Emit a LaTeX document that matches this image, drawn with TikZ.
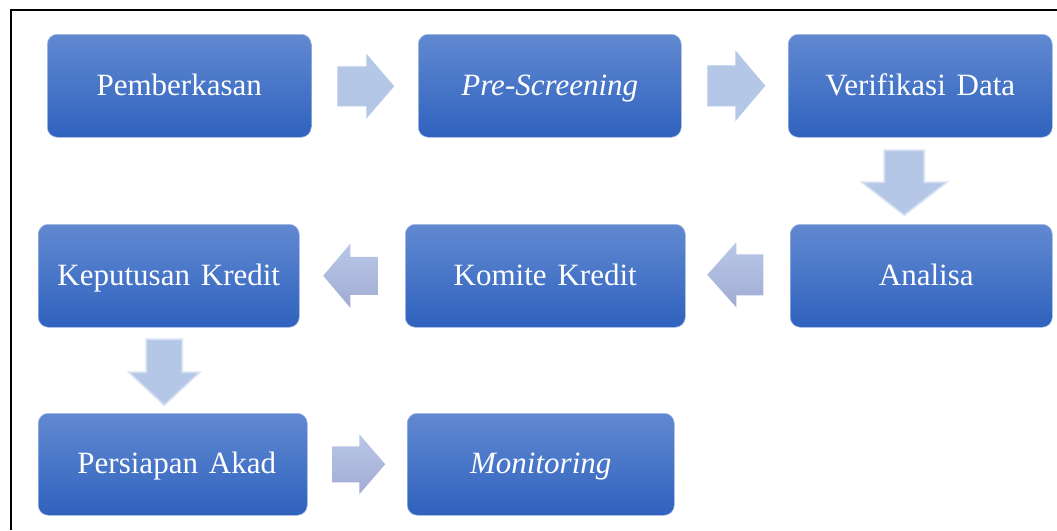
\documentclass[tikz,border=0pt]{standalone}
\usepackage{fontspec}
\setmainfont{Liberation Serif}
\usetikzlibrary{calc}

\definecolor{boxtop}{HTML}{6189D1}
\definecolor{boxbot}{HTML}{2F62BE}
\definecolor{boxedge}{HTML}{A9BDE6}
\definecolor{arrowfill}{HTML}{B4C7E7}
\definecolor{arrowedge}{HTML}{D9E2F3}
\definecolor{arrowtop}{HTML}{B8C8E8}
\definecolor{arrowbot}{HTML}{A2ABD3}

\begin{document}
\begin{tikzpicture}[x=1pt,y=-1pt,
  stage/.style={rectangle, rounded corners=10pt, top color=boxtop,
    bottom color=boxbot, draw=boxedge, line width=0.5pt, text=white,
    font=\fontsize{31}{36}\selectfont, inner sep=0pt, anchor=north west,
    text height=25pt, text depth=6pt},
  flatarrow/.style={fill=arrowfill},
  fadearrow/.style={top color=arrowtop, bottom color=arrowbot, draw=none},
  downarrow/.style={fill=arrowfill, draw=arrowedge, line width=1.6pt, line join=miter},
  frameline/.style={line width=2.5pt, black}]

% page area
\useasboundingbox (0,0) rectangle (1057,530);
\fill[white] (0,0) rectangle (1057,530);

% frame
\coordinate (fa) at (11,530);
\coordinate (fb) at (11,10);
\coordinate (fc) at (1057,10);
\draw[frameline] (fa) -- (fb) -- (fc);

% stages
\node[stage, minimum width=264pt, minimum height=103pt] (berkas)   at (47,34)  {Pemberkasan};
\node[stage, minimum width=263pt, minimum height=103pt] (screen)   at (418,34) {\textit{Pre-Screening}};
\node[stage, minimum width=264pt, minimum height=103pt] (verif)    at (788,34) {Verifikasi\hspace{0.35em}Data};
\node[stage, minimum width=262pt, minimum height=103pt] (analisa)  at (790,224) {\hspace{10pt}Analisa};
\node[stage, minimum width=280pt, minimum height=103pt] (komite)   at (405,224) {Komite\hspace{0.35em}Kredit};
\node[stage, minimum width=261pt, minimum height=103pt] (putusan)  at (38,224)  {Keputusan\hspace{0.35em}Kredit};
\node[stage, minimum width=269pt, minimum height=102pt] (akad)     at (38,413)  {\hspace{8pt}Persiapan\hspace{0.35em}Akad};
\node[stage, minimum width=267pt, minimum height=102pt] (monitor)  at (407,413) {\textit{Monitoring}};

% block arrows between stages
\coordinate (r1) at ($(berkas.east)!0.5!(screen.west)+(1,0.5)$);
\coordinate (r2) at ($(screen.east)!0.5!(verif.west)+(1.5,0)$);
\coordinate (d1) at ($(verif.south)!0.5!(analisa.north)+(-16.5,2)$);
\coordinate (l1) at ($(analisa.west)!0.5!(komite.east)+(-2.5,-1)$);
\coordinate (l2) at ($(komite.west)!0.5!(putusan.east)+(-1.5,0)$);
\coordinate (d2) at ($(putusan.south)!0.5!(akad.north)+(-6.5,2)$);
\coordinate (r3) at ($(akad.east)!0.5!(monitor.west)+(1.5,0)$);

\path[flatarrow, shift={(r1)}]
  (-28.5,-20) -- (0.5,-20) -- (0.5,-32.5) -- (28.5,0) -- (0.5,32.5) -- (0.5,20) -- (-28.5,20) -- cycle;
\path[flatarrow, shift={(r2)}]
  (-29,-20.5) -- (-1,-20.5) -- (-1,-35.5) -- (29,0) -- (-1,35.5) -- (-1,20.5) -- (-29,20.5) -- cycle;
\path[downarrow, shift={(d1)}]
  (-20,-32.5) -- (20,-32.5) -- (20,-0.5) -- (42.5,-0.5) -- (0,32.5) -- (-42.5,-0.5) -- (-20,-0.5) -- cycle;
\path[fadearrow, shift={(l1)}]
  (28,-20.5) -- (1,-20.5) -- (1,-32.5) -- (-28,0) -- (1,32.5) -- (1,20.5) -- (28,20.5) -- cycle;
\path[fadearrow, shift={(l2)}]
  (27.5,-19) -- (-0.5,-19) -- (-0.5,-32) -- (-27.5,0) -- (-0.5,32) -- (-0.5,19) -- (27.5,19) -- cycle;
\path[downarrow, shift={(d2)}]
  (-18,-33) -- (18,-33) -- (18,0) -- (35.5,0) -- (0,33) -- (-35.5,0) -- (-18,0) -- cycle;
\path[fadearrow, shift={(r3)}]
  (-26.5,-18) -- (0.5,-18) -- (0.5,-30) -- (26.5,0) -- (0.5,30) -- (0.5,18) -- (-26.5,18) -- cycle;
\end{tikzpicture}
\end{document}
